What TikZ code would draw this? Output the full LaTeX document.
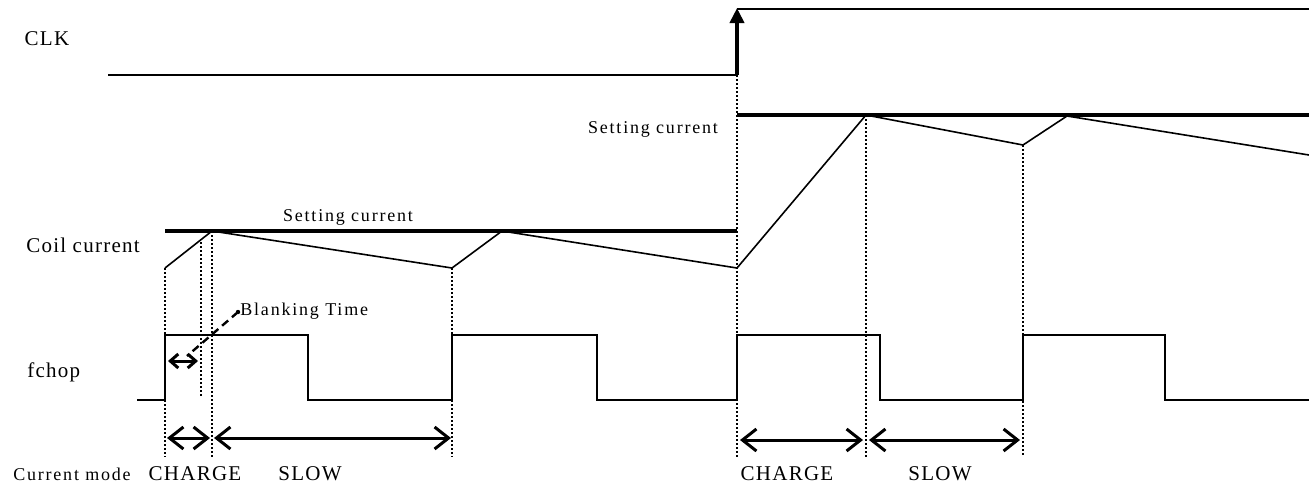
\documentclass[tikz,border=0pt]{standalone}
\usepackage{fontspec}
\setmainfont{Liberation Serif}
\newfontfamily\lblfont{Liberation Serif}[LetterSpace=6]
\newfontfamily\smlfont{Liberation Serif}[LetterSpace=10]
\usetikzlibrary{arrows.meta}

\begin{document}
\begin{tikzpicture}[
    x=0.5pt,y=-0.5pt,
    lbl/.style={inner sep=0pt,font=\lblfont\fontsize{10.5}{12}\selectfont},
    sml/.style={inner sep=0pt,font=\smlfont\fontsize{9}{11}\selectfont},
    sig/.style={line width=0.8pt},
    setline/.style={line width=1.6pt},
    guide/.style={line width=1pt,densely dotted},
    span/.style={{Straight Barb[length=7pt,width=11pt]}-{Straight Barb[length=7pt,width=11pt]},line width=1.5pt},
    tinyspan/.style={{Straight Barb[length=4pt,width=7pt]}-{Straight Barb[length=4pt,width=7pt]},line width=1.5pt},
    clkarr/.style={-{Triangle[length=7.5pt,width=7pt]},line width=2pt}
  ]
    \useasboundingbox (0,0) rectangle (1309,489);

    % row labels
    \node[lbl] (clk) at (47,39) {CLK};
    \node[lbl] (coil) at (83,245) {Coil current};
    \node[lbl,anchor=base west] (fchop) at (27,377) {fchop};
    \node[sml] (mode) at (72,474) {Current mode};

    % CLK
    \draw[sig] (108,75) -- (737,75);
    \draw[clkarr] (737,75) -- (737,8);
    \draw[sig] (737,9) -- (1309,9);

    % setting current levels
    \draw[setline] (165,231) -- (737,231);
    \draw[setline] (737,115) -- (1309,115);
    \node[sml] (set1) at (348,217) {Setting current};
    \node[sml] (set2) at (653,129) {Setting current};

    % coil current
    \draw[sig] (165,268) -- (212,231) -- (452,268) -- (502,231) -- (737,268)
      -- (866,115) -- (1023,145) -- (1067,116) -- (1309,155);

    % fchop
    \draw[sig] (137,400) -| (165,335) -| (308,400) -| (452,335) -| (597,400)
      -| (737,335) -| (880,400) -| (1023,335) -| (1165,400) -- (1309,400);

    % guides
    \draw[guide] (165,268) -- (165,457);
    \draw[guide] (201,242) -- (201,398);
    \draw[guide] (212,231) -- (212,457);
    \draw[guide] (452,268) -- (452,457);
    \draw[guide] (737,75) -- (737,457);
    \draw[guide] (866,115) -- (866,457);
    \draw[guide] (1023,145) -- (1023,457);

    % blanking time
    \node[sml,anchor=west] (blank) at (240,311) {Blanking Time};
    \coordinate (bt) at (187,356);
    \draw[tinyspan] (168,361) -- (198,361);
    \fill (blank.west) ++(-2,1) circle (2.2);
    \draw[line width=1.2pt,dash pattern=on 4pt off 2.5pt] (blank.west) ++(-2,1) -- (bt);

    % current mode spans
    \draw[span] (167,438) -- (210,438);
    \draw[span] (214,438) -- (451,438);
    \draw[span] (740,440) -- (863,440);
    \draw[span] (869,440) -- (1020,440);
    \node[lbl] (ch1) at (195,474) {CHARGE};
    \node[lbl] (sl1) at (310,474) {SLOW};
    \node[lbl] (ch2) at (787,474) {CHARGE};
    \node[lbl] (sl2) at (940,474) {SLOW};
  \end{tikzpicture}
\end{document}
